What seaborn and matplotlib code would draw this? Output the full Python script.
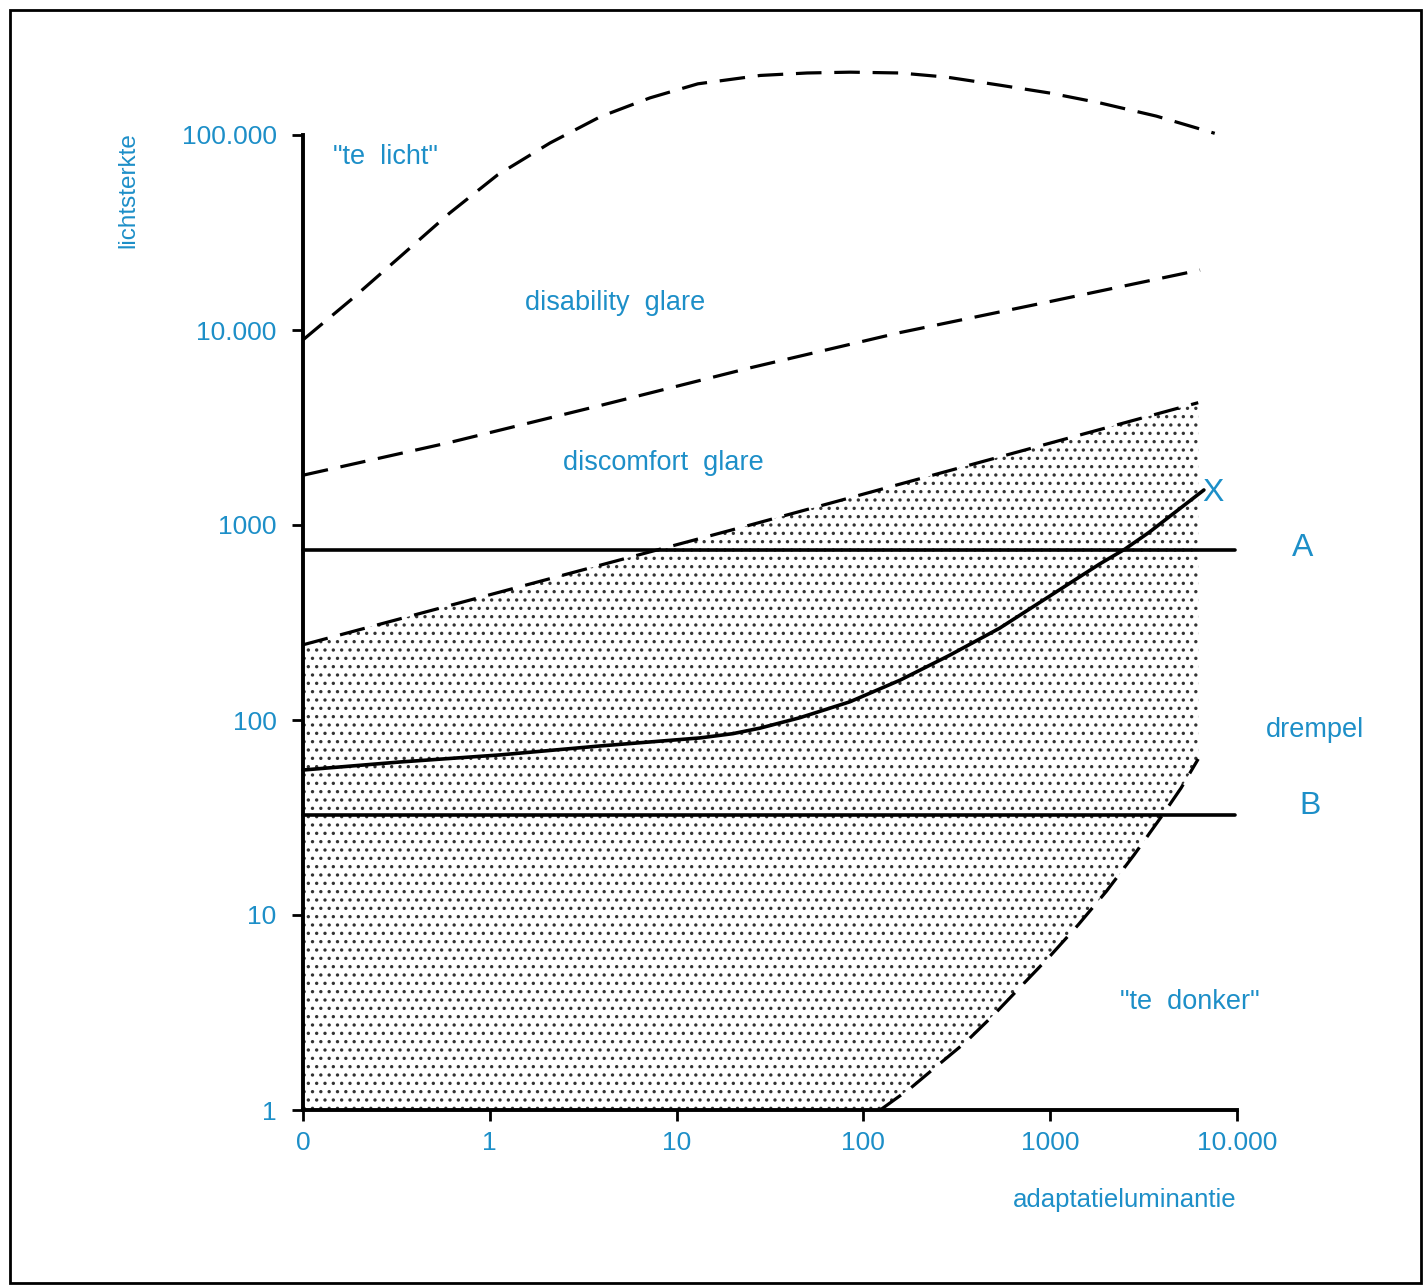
import matplotlib
matplotlib.use("Agg")
import matplotlib.pyplot as plt
import matplotlib.patches as mpatches
import seaborn as sns

# adaptatieluminantie (x) vs lichtsterkte (y), both log scale
x_ticks = [0.1, 1, 10, 100, 1000, 10000]
x_ticklabels = ["0", "1", "10", "100", "1000", "10.000"]
y_ticks = [1, 10, 100, 1000, 10000, 100000]
y_ticklabels = ["1", "10", "100", "1000", "10.000", "100.000"]

# upper limit "te licht"
licht_x = [0.1, 0.18, 0.33, 0.61, 1.1, 2.1, 3.9, 7.2, 13, 28, 50, 85, 157,
           280, 540, 1000, 1850, 3700, 7600]
licht_y = [8900, 14250, 23700, 39800, 62400, 91000, 124000, 155000, 183000,
           202000, 208000, 210000, 208000, 198000, 180000, 164000, 146000,
           125000, 102000]

# disability / discomfort boundary
disab_x = [0.1, 0.61, 3.9, 24.8, 157, 1000, 6340]
disab_y = [1800, 2650, 4100, 6400, 9700, 14000, 20300]

# discomfort lower boundary (top of the dotted area)
discomf_x = [0.1, 24.8, 6200]
discomf_y = [243, 1000, 4240]

# "te donker" boundary
donker_x = [123, 178, 251, 355, 501, 708, 1000, 1413, 1995, 2818, 3981,
            5012, 6200]
donker_y = [1, 1.29, 1.70, 2.24, 3.09, 4.37, 6.17, 8.91, 13.2, 20.4, 32.4,
            44.7, 63.1]

# solid curve X
curve_x = [0.1, 0.33, 1.13, 3.89, 13.3, 20, 27.9, 45.8, 84.7, 157, 290, 537,
           994, 1840, 2510, 3390, 6650]
curve_y = [55.4, 60.9, 66.2, 73.6, 80.9, 85.1, 90.8, 102.8, 124, 160, 215,
           296, 432, 631, 752, 918, 1512]

# horizontal levels A and B
level_x = [0.1, 9750]
level_a = 745
level_b = 32.6

blue = "#1d8fc8"
sns.set_style("white")
plt.rcParams['font.family'] = ['Liberation Sans', 'DejaVu Sans']
plt.rcParams['hatch.linewidth'] = 1.2

fig = plt.figure(figsize=(14.26, 12.88), dpi=100)
ax = fig.add_axes([303 / 1426, 178 / 1288, 934 / 1426, 1053 / 1288])
ax.set_xscale("log")
ax.set_yscale("log")
ax.set_xlim(0.1, 1e4)
ax.set_ylim(1, 10 ** 5.4)

# dotted region
poly_x = discomf_x + donker_x[::-1] + [0.1]
poly_y = discomf_y + donker_y[::-1] + [1]
ax.fill(poly_x, poly_y, facecolor="white", edgecolor="#333333", linewidth=0,
        hatch="..", zorder=1)

dash = (0, (8, 4))
sns.lineplot(x=licht_x, y=licht_y, ax=ax, color="black", linewidth=2.3,
             linestyle=dash, clip_on=False)
sns.lineplot(x=disab_x, y=disab_y, ax=ax, color="black", linewidth=2.3,
             linestyle=dash, clip_on=False)
sns.lineplot(x=discomf_x, y=discomf_y, ax=ax, color="black", linewidth=2.3,
             linestyle=dash, clip_on=False)
sns.lineplot(x=donker_x, y=donker_y, ax=ax, color="black", linewidth=2.3,
             linestyle=dash, clip_on=False)
sns.lineplot(x=curve_x, y=curve_y, ax=ax, color="black", linewidth=2.6,
             clip_on=False)
sns.lineplot(x=level_x, y=[level_a, level_a], ax=ax, color="black",
             linewidth=2.6, clip_on=False)
sns.lineplot(x=level_x, y=[level_b, level_b], ax=ax, color="black",
             linewidth=2.6, clip_on=False)

ax.set_xticks(x_ticks)
ax.set_xticklabels(x_ticklabels)
ax.set_yticks(y_ticks)
ax.set_yticklabels(y_ticklabels)
ax.minorticks_off()
ax.tick_params(axis="both", colors="black", labelcolor=blue, labelsize=19,
               length=8, width=2, direction="out")
ax.tick_params(axis="x", pad=7)
ax.tick_params(axis="y", pad=11)
ax.tick_params(bottom=True, left=True)

sns.despine(ax=ax)
ax.spines["left"].set_bounds(1, 1e5)
ax.spines["bottom"].set_bounds(0.1, 1e4)
for s in ["left", "bottom"]:
    ax.spines[s].set_linewidth(2.8)
    ax.spines[s].set_color("black")

txt = dict(color=blue, ha="center", va="center", fontsize=19.5, clip_on=False)
ax.text(0.275, 77100, '"te  licht"', **txt)
ax.text(4.68, 13750, "disability  glare", **txt)
ax.text(8.45, 2080, "discomfort  glare", **txt)
ax.text(5600, 3.58, '"te  donker"', **txt)
ax.text(26200, 88.9, "drempel", **txt)
ax.text(7430, 1460, "X", color=blue, ha="center", va="center", fontsize=23)
ax.text(22500, 762, "A", color=blue, ha="center", va="center", fontsize=23)
ax.text(24600, 36.2, "B", color=blue, ha="center", va="center", fontsize=23)

fig.text(128 / 1426, 1 - 190 / 1288, "lichtsterkte", color=blue, fontsize=17.5,
         rotation=90, ha="center", va="center")
fig.text(1125 / 1426, 1 - 1200 / 1288, "adaptatieluminantie", color=blue,
         fontsize=18.5, ha="center", va="center")

frame = mpatches.Rectangle((10 / 1426, 5 / 1288), 1411 / 1426, 1273 / 1288,
                           transform=fig.transFigure, fill=False,
                           edgecolor="black", linewidth=2)
fig.patches.append(frame)

fig.savefig("out.png", dpi=100)
